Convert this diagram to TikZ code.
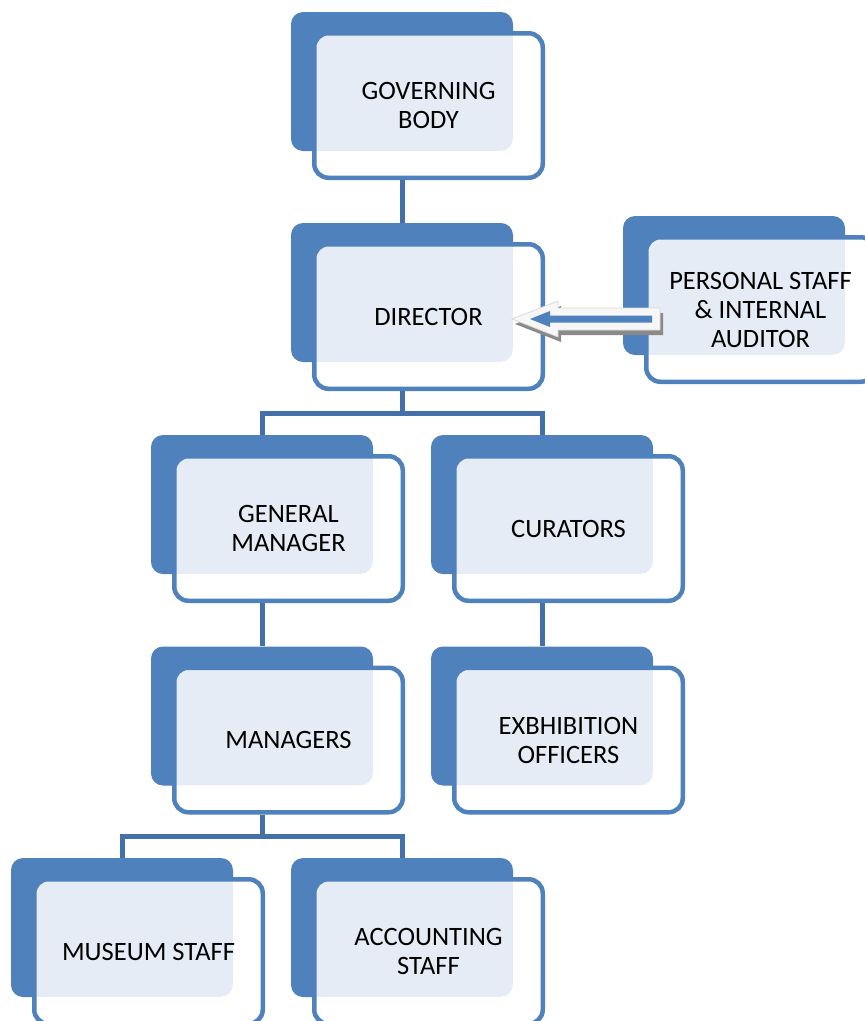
\documentclass[tikz,border=0pt]{standalone}
\usepackage{fontspec}
\setmainfont{Carlito}
\usetikzlibrary{calc}
\definecolor{boxblue}{HTML}{4F81BD}
\definecolor{connblue}{HTML}{4470AA}
\definecolor{dotfill}{HTML}{E6ECF5}
\definecolor{shadowgray}{HTML}{8A8A8A}
\definecolor{arrowedge}{HTML}{D9D9D9}
\tikzset{
  backbox/.style={fill=boxblue, rounded corners=12pt, minimum width=222pt, minimum height=139pt, inner sep=0pt},
  frontbox/.style={draw=boxblue, line width=4.5pt, fill=white, rounded corners=14pt,
    minimum width=228.5pt, minimum height=144.5pt, inner sep=0pt, align=center,
    font=\fontsize{26.5}{29}\selectfont, text=black,
    path picture={\fill[dotfill, rounded corners=12pt]
      ([shift={(-60pt,60pt)}]path picture bounding box.north west) rectangle
      ([shift={(-30pt,27pt)}]path picture bounding box.south east);}},
  conn/.style={draw=connblue, line width=5pt},
  arrowshadow/.style={fill=shadowgray},
  arrowbody/.style={fill=white!97!black, draw=arrowedge, line width=0.8pt},
  arrowinner/.style={fill=boxblue},
}
\newcommand\orgunit[4]{%
  \node[backbox] (#1b) at (#2,#3) {};
  \node[frontbox] (#1) at ($(#1b)+(26.5,24)$) {#4};
}
\begin{document}
\begin{tikzpicture}[x=1pt,y=-1pt]
  \useasboundingbox (0,0) rectangle (865,1021);
  \clip (0,0) rectangle (865,1021);
  \orgunit{gb}{402}{81.5}{GOVERNING\\BODY}
  \orgunit{dir}{402}{292.5}{DIRECTOR}
  \orgunit{ps}{734}{285.5}{PERSONAL STAFF\\\& INTERNAL\\AUDITOR}
  \orgunit{gm}{262}{504.5}{GENERAL\\MANAGER}
  \orgunit{cur}{542}{504.5}{CURATORS}
  \orgunit{man}{262}{716}{MANAGERS}
  \orgunit{exo}{542}{716}{EXBHIBITION\\OFFICERS}
  \orgunit{mus}{122}{927.5}{MUSEUM STAFF}
  \orgunit{acc}{402}{927.5}{ACCOUNTING\\STAFF}
  % connectors
  \draw[conn] (gbb.center |- gb.south) -- (dirb.north);
  \coordinate (j1) at ($(dirb.center |- dir.south)+(0,22)$);
  \draw[conn] (dirb.center |- dir.south) -- (j1);
  \draw[conn] (gmb.north) |- (j1) -| (curb.north);
  \draw[conn] (gmb.center |- gm.south) -- (manb.north);
  \draw[conn] (curb.center |- cur.south) -- (exob.north);
  \coordinate (j2) at ($(manb.center |- man.south)+(0,22)$);
  \draw[conn] (manb.center |- man.south) -- (j2);
  \draw[conn] (musb.north) |- (j2) -| (accb.north);
  % block arrow from personal staff to director
  \coordinate (at) at ($(dir.east)+(-33,2.5)$);
  \begin{scope}[shift={(at)}]
    \fill[arrowshadow] (3,5) -- (49,-13) -- (49,-6) -- (151,-6) -- (151,16) -- (49,16) -- (49,23) -- cycle;
    \path[arrowbody] (0,0) -- (46,-18) -- (46,-11) -- (148,-11) -- (148,11) -- (46,11) -- (46,18) -- cycle;
    \fill[arrowinner] (18,0) -- (38,-8) -- (38,-3.5) -- (140,-3.5) -- (140,3.5) -- (38,3.5) -- (38,8) -- cycle;
  \end{scope}
\end{tikzpicture}
\end{document}
